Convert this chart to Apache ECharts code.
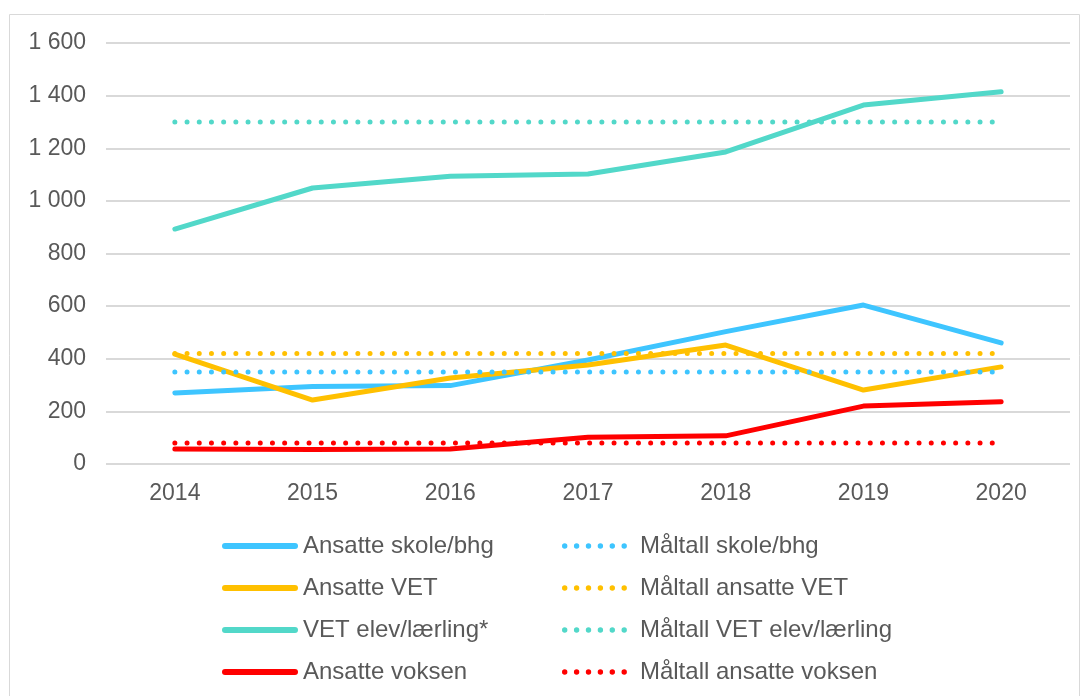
<!DOCTYPE html>
<html>
<head>
<meta charset="utf-8">
<script src="https://cdn.jsdelivr.net/npm/echarts@6/dist/echarts.min.js"></script>
<style>
  html, body { margin: 0; padding: 0; background: #fff; }
  #main { width: 1083px; height: 696px; }
</style>
</head>
<body>
<div id="main"></div>
<script>
  // år
  var years = ['2014', '2015', '2016', '2017', '2018', '2019', '2020'];

  // faktiske tall
  var ansatteSkole = [270, 295, 298, 395, 503, 604, 460];
  var ansatteVet = [418, 243, 327, 376, 452, 281, 369];
  var vetElev = [893, 1049, 1094, 1102, 1186, 1364, 1415];
  var ansatteVoksen = [57, 55, 57, 102, 107, 220, 237];

  // måltall
  var maalSkole = [350, 350, 350, 350, 350, 350, 350];
  var maalVet = [420, 420, 420, 420, 420, 420, 420];
  var maalVetElev = [1300, 1300, 1300, 1300, 1300, 1300, 1300];
  var maalVoksen = [80, 80, 80, 80, 80, 80, 80];

  var blue = '#3EC5FF';
  var yellow = '#FFC000';
  var teal = '#52D8C9';
  var red = '#FF0000';

  // legend-ikoner: avrundet strek og seks prikker
  var barIcon = 'path://M3,0H73A3,3 0 0 1 73,6H3A3,3 0 0 1 3,0Z';
  var dotIcon = 'path://';
  for (var k = 0; k < 6; k++) {
    var cx = 2.7 + 11.9 * k;
    dotIcon += 'M' + (cx - 2.7) + ',2.7A2.7,2.7 0 1 0 ' + (cx + 2.7) + ',2.7A2.7,2.7 0 1 0 ' + (cx - 2.7) + ',2.7Z';
  }

  function solid(name, data, color) {
    return {
      name: name, type: 'line', data: data, symbol: 'none',
      lineStyle: { color: color, width: 5, cap: 'round', join: 'round' },
      itemStyle: { color: color }
    };
  }
  function dotted(name, data, color) {
    return {
      name: name, type: 'line', data: data, symbol: 'none',
      lineStyle: { color: color, width: 5, type: [0, 12.2], cap: 'round' },
      itemStyle: { color: color }
    };
  }

  var chart = echarts.init(document.getElementById('main'));
  var font = 'Liberation Sans, Arial, sans-serif';
  var option = {
    animation: false,
    textStyle: { fontFamily: font },
    graphic: [{
      type: 'rect',
      shape: { x: 9.5, y: 14.5, width: 1070, height: 700 },
      style: { fill: 'none', stroke: '#D9D9D9', lineWidth: 1 },
      silent: true
    }],
    grid: { left: 106, right: 13, top: 43, bottom: 232 },
    xAxis: {
      type: 'category',
      data: years,
      axisLine: { show: false },
      axisTick: { show: false },
      axisLabel: { fontSize: 23, color: '#595959', margin: 18 }
    },
    yAxis: {
      type: 'value',
      min: 0, max: 1600, interval: 200,
      axisLabel: {
        fontSize: 23, color: '#595959', margin: 20,
        formatter: function (v) { return String(v).replace(/\B(?=(\d{3})+(?!\d))/g, ' '); }
      },
      splitLine: { lineStyle: { color: '#D9D9D9', width: 2 } }
    },
    legend: [{
      orient: 'vertical',
      left: 217, top: 529,
      itemWidth: 76, itemHeight: 6, itemGap: 18,
      icon: barIcon,
      textStyle: { fontSize: 24, lineHeight: 24, color: '#595959', fontFamily: font },
      data: ['Ansatte skole/bhg', 'Ansatte VET', 'VET elev/lærling*', 'Ansatte voksen']
    }, {
      orient: 'vertical',
      left: 557, top: 529,
      itemWidth: 65, itemHeight: 5.4, itemGap: 18,
      icon: dotIcon,
      textStyle: { fontSize: 24, lineHeight: 24, color: '#595959', fontFamily: font, padding: [0, 0, 0, 8] },
      data: ['Måltall skole/bhg', 'Måltall ansatte VET', 'Måltall VET elev/lærling', 'Måltall ansatte voksen']
    }],
    series: [
      solid('Ansatte skole/bhg', ansatteSkole, blue),
      solid('Ansatte VET', ansatteVet, yellow),
      solid('VET elev/lærling*', vetElev, teal),
      solid('Ansatte voksen', ansatteVoksen, red),
      dotted('Måltall skole/bhg', maalSkole, blue),
      dotted('Måltall ansatte VET', maalVet, yellow),
      dotted('Måltall VET elev/lærling', maalVetElev, teal),
      dotted('Måltall ansatte voksen', maalVoksen, red)
    ]
  };
  chart.setOption(option);
</script>
</body>
</html>
